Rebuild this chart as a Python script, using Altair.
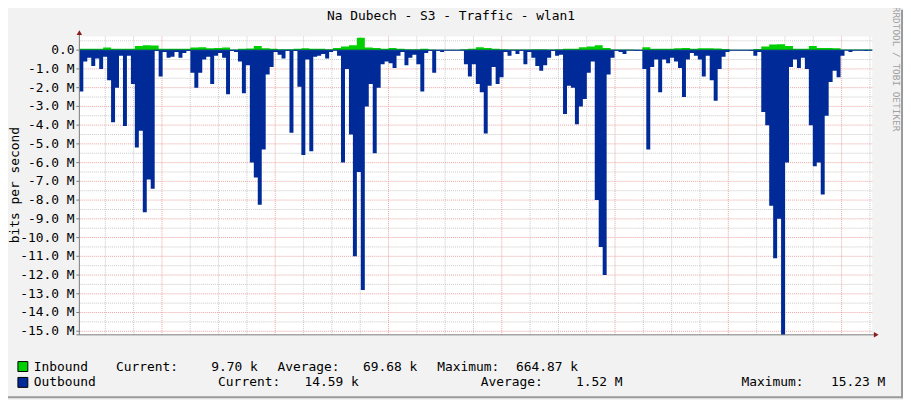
import json
import altair as alt
import pandas as pd

# ---------------- data ----------------
TITLE = "Na Dubech - S3 - Traffic - wlan1"
Y_TITLE = "bits per second"
WATERMARK = "RRDTOOL / TOBI OETIKER"
DAYS = ["Mon", "Tue", "Wed", "Thu", "Fri", "Sat", "Sun"]

SPAN_HOURS = 168.0      # one week, starting Mon 06:30
OUT_STEP_H = 0.84       # outbound sample spacing (hours)
IN_STEP_H = 1.68        # inbound sample spacing (hours)

# outbound traffic, Mbit/s (drawn below zero)
outbound_M = [
    2.2, 0.6, 0.4, 0.85, 0.45, 1.0, 0.35, 1.6, 3.85, 2.0,
    0.3, 4.05, 0.3, 1.8, 5.2, 4.3, 8.65, 6.9, 7.4, 0.05,
    1.4, 0.1, 0.4, 0.35, 0.1, 0.4, 0.15, 0.05, 1.2, 2.0,
    1.2, 0.5, 0.35, 1.8, 0.3, 0.15, 0.4, 2.35, 0.05, 0.1,
    0.6, 2.3, 0.8, 6.0, 6.8, 8.25, 5.3, 1.3, 0.9, 0.1,
    0.25, 0.45, 0.05, 4.4, 0.05, 1.95, 5.6, 0.5, 5.4, 0.35,
    0.3, 0.2, 0.45, 0.1, 0.02, 0.3, 6.0, 1.0, 4.5, 11.0,
    6.5, 12.8, 3.0, 1.8, 5.5, 2.0, 0.75, 0.6, 0.7, 0.95,
    0.3, 0.1, 0.8, 0.4, 0.25, 0.75, 2.2, 0.15, 0.05, 1.2,
    0.05, 0.1, 0.02, 0.02, 0.02, 0.02, 0.02, 0.75, 1.4, 0.75,
    1.8, 2.25, 4.45, 1.9, 0.9, 1.8, 1.45, 0.1, 0.3, 0.02,
    0.2, 0.05, 0.75, 0.1, 0.4, 0.85, 1.1, 0.8, 0.4, 0.05,
    0.3, 0.25, 3.4, 1.9, 2.0, 3.95, 3.0, 2.6, 1.2, 0.6,
    8.0, 10.5, 12.0, 1.3, 0.4, 0.05, 0.1, 0.2, 0.02, 0.02,
    0.05, 0.03, 1.0, 5.3, 0.9, 0.5, 2.25, 0.5, 0.7, 0.4,
    0.6, 0.95, 2.5, 0.5, 0.15, 0.3, 0.5, 1.4, 0.3, 1.6,
    2.7, 1.0, 0.35, 0.1, 0.02, 0.02, 0.02, 0.02, 0.02, 0.05,
    0.3, 0.1, 3.3, 4.0, 8.3, 11.1, 9.0, 15.2, 6.0, 0.9,
    0.5, 0.95, 0.4, 1.0, 4.0, 6.2, 6.0, 7.7, 3.5, 1.7,
    1.1, 1.45, 0.3, 0.02, 0.1, 0.02, 0.02, 0.02, 0.05, 0.02,
]

# inbound traffic, Mbit/s (drawn above zero)
inbound_M = [
    0.08, 0.08, 0.08, 0.14, 0.08, 0.08, 0.08, 0.22, 0.26, 0.25,
    0.07, 0.07, 0.07, 0.07, 0.14, 0.15, 0.10, 0.12, 0.14, 0.04,
    0.08, 0.09, 0.22, 0.10, 0.08, 0.05, 0.05, 0.08, 0.10, 0.08,
    0.07, 0.05, 0.12, 0.20, 0.26, 0.66, 0.14, 0.12, 0.08, 0.12,
    0.07, 0.05, 0.05, 0.08, 0.03, 0.02, 0.02, 0.02, 0.05, 0.08,
    0.16, 0.12, 0.08, 0.05, 0.03, 0.03, 0.03, 0.05, 0.05, 0.04,
    0.05, 0.08, 0.08, 0.15, 0.19, 0.26, 0.12, 0.03, 0.03, 0.03,
    0.02, 0.15, 0.08, 0.08, 0.08, 0.10, 0.12, 0.07, 0.10, 0.10,
    0.09, 0.06, 0.02, 0.02, 0.02, 0.06, 0.20, 0.30, 0.32, 0.22,
    0.08, 0.08, 0.22, 0.12, 0.12, 0.10, 0.03, 0.03, 0.04, 0.03,
]

legend_in = ["Inbound", "Current:", "9.70 k", "Average:", "69.68 k", "Maximum:", "664.87 k"]
legend_out = ["Outbound", "Current:", "14.59 k", "Average:", "1.52 M", "Maximum:", "15.23 M"]

y_major = list(range(-15, 1))                       # labelled, red grid
y_minor = [k + 0.5 for k in range(-15, 1)]          # grey grid
x_major = [17.5 + 24 * k for k in range(7)]          # midnights
x_minor = [5.5 + 6 * k for k in range(28) if (5.5 + 6 * k) not in x_major]
x_labels = [5.5 + 24 * k for k in range(7)]          # noon of each day

# ---------------- layout / style ----------------
FONT = "DejaVu Sans Mono"
FS = 13
W, H = 800, 301
Y_DOMAIN = [-15.19, 0.73]
GREEN = "#00CF00"
BLUE = "#002A97"
AXIS_C = "#7A7A7A"
ARROW_C = "#8B1C1C"
GRID_C = "#C8C8C8"
MGRID_C = "#EBA3A3"

xs = alt.Scale(domain=[0, SPAN_HOURS], nice=False, zero=False)
ys = alt.Scale(domain=Y_DOMAIN, nice=False, zero=False)

out_df = pd.DataFrame({
    "h": [i * OUT_STEP_H for i in range(len(outbound_M))] + [SPAN_HOURS],
    "v": outbound_M + [outbound_M[-1]],
})
in_df = pd.DataFrame({
    "h": [i * IN_STEP_H for i in range(len(inbound_M))] + [SPAN_HOURS],
    "v": inbound_M + [inbound_M[-1]],
})

x_label_expr = json.dumps(DAYS) + "[floor(datum.value / 24)]"
y_label_expr = "datum.v == 0 ? '0.0' : '-' + format(-datum.v, '.1f') + ' M'"

x_axis = alt.Axis(values=x_labels, labelExpr=x_label_expr, title=None, grid=False,
                  domain=False, ticks=False, labelPadding=4, labelFont=FONT,
                  labelFontSize=FS, labelColor="black", labelFlush=False,
                  labelOverlap=False)


def grid_x(vals, color):
    return alt.Chart(pd.DataFrame({"g": vals})).mark_rule(
        color=color, strokeDash=[1, 1], strokeWidth=1
    ).encode(x=alt.X("g:Q", scale=xs, axis=None))


def grid_y(vals, color):
    return alt.Chart(pd.DataFrame({"g": vals})).mark_rule(
        color=color, strokeDash=[1, 1], strokeWidth=1
    ).encode(y=alt.Y("g:Q", scale=ys, axis=None))


def text(s, x, y, align="left", size=FS, color="black", angle=0):
    return alt.Chart(pd.DataFrame({"t": [s]})).mark_text(
        align=align, baseline="middle", font=FONT, fontSize=size,
        color=color, angle=angle
    ).encode(x=alt.value(x), y=alt.value(y), text="t:N")


def swatch(color, y):
    return alt.Chart(pd.DataFrame({"t": [0]})).mark_rect(
        fill=color, stroke="black", strokeWidth=1
    ).encode(x=alt.value(-62), x2=alt.value(-52), y=alt.value(y), y2=alt.value(y + 10))


layers = [
    grid_x(x_minor, GRID_C),
    grid_y(y_minor, GRID_C),
    grid_x(x_major, MGRID_C),
    grid_y(y_major, MGRID_C),
]

outbound = alt.Chart(out_df).transform_calculate(neg="-datum.v").mark_area(
    interpolate="step-after", color=BLUE
).encode(
    x=alt.X("h:Q", scale=xs, axis=x_axis),
    y=alt.Y("neg:Q", scale=ys, axis=None),
    y2=alt.datum(0),
)
inbound = alt.Chart(in_df).mark_area(interpolate="step-after", color=GREEN).encode(
    x=alt.X("h:Q", scale=xs, axis=None),
    y=alt.Y("v:Q", scale=ys, axis=None),
    y2=alt.datum(0),
)
zero_line = alt.Chart(pd.DataFrame({"z": [0]})).mark_rule(color=BLUE, strokeWidth=1).encode(
    y=alt.Y("z:Q", scale=ys, axis=None)
)
layers += [inbound, outbound, zero_line]

# y-axis labels and ticks (placed through the y scale)
ylab = pd.DataFrame({"v": y_major})
layers += [
    alt.Chart(ylab).transform_calculate(lab=y_label_expr).mark_text(
        align="right", baseline="middle", font=FONT, fontSize=FS, color="black"
    ).encode(x=alt.value(-5), y=alt.Y("v:Q", scale=ys, axis=None), text="lab:N"),
    alt.Chart(ylab).mark_rule(color=AXIS_C, strokeWidth=1).encode(
        x=alt.value(-3), x2=alt.value(0), y=alt.Y("v:Q", scale=ys, axis=None)),
]

# axis lines and arrows
dummy = pd.DataFrame({"t": [0]})
layers += [
    alt.Chart(dummy).mark_rule(color=AXIS_C, strokeWidth=1).encode(
        x=alt.value(0), y=alt.value(-3), y2=alt.value(H)),
    alt.Chart(dummy).mark_rule(color=AXIS_C, strokeWidth=1).encode(
        x=alt.value(-3), x2=alt.value(W + 3), y=alt.value(H)),
    alt.Chart(dummy).mark_point(shape="triangle-up", filled=True, size=30, color=ARROW_C, opacity=1).encode(
        x=alt.value(0), y=alt.value(-4)),
    alt.Chart(dummy).mark_point(shape="triangle-right", filled=True, size=30, color=ARROW_C, opacity=1).encode(
        x=alt.value(W + 4), y=alt.value(H)),
]

# titles
layers += [
    text(TITLE, 375, -21, align="center"),
    text(Y_TITLE, -65, 150, align="center", angle=270),
    text(WATERMARK, 824, -30, align="left", size=9.5, color="#A0A0A0", angle=90),
]

# legend
row1_y, row2_y = 333, 349
row1_pos = [(-46, "left"), (37, "left"), (180, "right"), (200, "left"),
            (341, "right"), (361, "left"), (503, "right")]
row2_pos = [(-46, "left"), (140, "left"), (282, "right"), (405, "left"),
            (548, "right"), (668, "left"), (813, "right")]
layers += [swatch(GREEN, row1_y - 5), swatch(BLUE, row2_y - 5)]
for s, (px, al) in zip(legend_in, row1_pos):
    layers.append(text(s, px, row1_y, align=al))
for s, (px, al) in zip(legend_out, row2_pos):
    layers.append(text(s, px, row2_y, align=al))

# outer frame shade (right / bottom)
layers += [
    alt.Chart(dummy).mark_rule(color="#9A9A9A", strokeWidth=2).encode(
        x=alt.value(830), y=alt.value(-27), y2=alt.value(365)),
    alt.Chart(dummy).mark_rule(color="#9A9A9A", strokeWidth=2).encode(
        x=alt.value(-72), x2=alt.value(831), y=alt.value(364)),
]

chart = alt.layer(*layers).properties(
    width=W, height=H,
    autosize=alt.AutoSizeParams(type="none"),
    padding={"left": 72, "top": 27, "right": 31, "bottom": 64},
    background="#F2F2F2",
).configure_view(fill="white", stroke=None)

chart.save("out.html", embed_options={"renderer": "svg", "actions": False})
